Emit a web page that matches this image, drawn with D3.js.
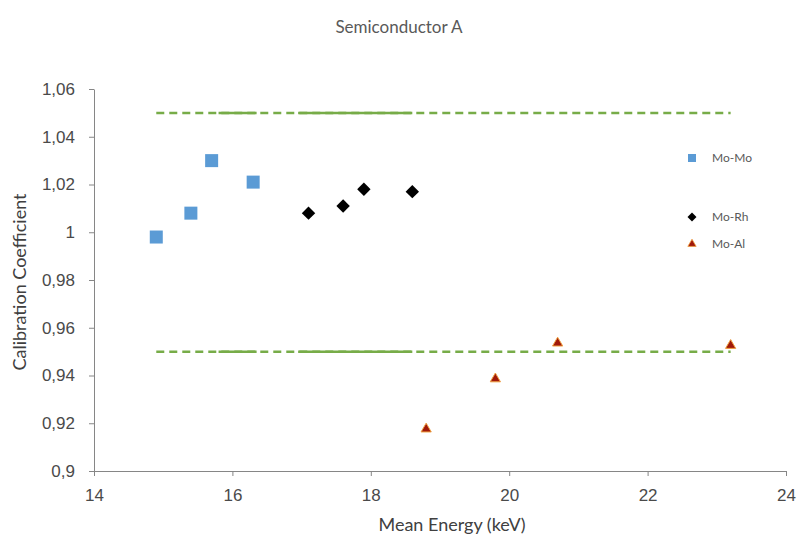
<!DOCTYPE html>
<html>
<head>
<meta charset="utf-8">
<script src="https://cdn.jsdelivr.net/npm/d3@7/dist/d3.min.js"></script>
<style>
  body { margin: 0; background: #fff; }
  svg { font-family: Lato, "Open Sans", sans-serif; }
</style>
</head>
<body>
<div class="displayArea"></div>
<script>
// values
const moMoX = [14.9, 15.4, 15.7, 16.3],
      moMoY = [0.998, 1.008, 1.030, 1.021];
const moRhX = [17.1, 17.6, 17.9, 18.6],
      moRhY = [1.008, 1.011, 1.018, 1.017];
const moAlX = [18.8, 19.8, 20.7, 23.2],
      moAlY = [0.918, 0.939, 0.954, 0.953];
const limitY = [1.05, 0.95],
      limitX = [14.9, 23.2],
      limitSolid = [[15.8, 16.35], [16.95, 18.6]]; // where the dashed limit lines overlap
const xTicks = [14, 16, 18, 20, 22, 24],
      yTicks = [0.9, 0.92, 0.94, 0.96, 0.98, 1, 1.02, 1.04, 1.06];

var width = 798, height = 544;

var svg = d3.select(".displayArea")
    .append("svg")
    .attr("width", width)
    .attr("height", height);

var xScale = d3.scaleLinear().domain([14, 24]).range([94, 786]),
    yScale = d3.scaleLinear().domain([0.9, 1.06]).range([471, 89]);

var fmt = d => String(+d.toFixed(2)).replace(".", ",");

var xAxis = d3.axisBottom(xScale).tickValues(xTicks).tickSize(5).tickSizeOuter(0).tickFormat(d3.format("d")),
    yAxis = d3.axisLeft(yScale).tickValues(yTicks).tickSize(5).tickSizeOuter(0).tickFormat(fmt);

svg.append("g")
    .attr("class", "xAxis")
    .attr("transform", `translate(0,${yScale(0.9)})`)
    .call(xAxis);

svg.append("g")
    .attr("class", "yAxis")
    .attr("transform", `translate(${xScale(14)},0)`)
    .call(yAxis);

svg.selectAll(".xAxis path, .xAxis line, .yAxis path, .yAxis line")
    .attr("stroke", "#868686");
svg.selectAll(".xAxis text")
    .attr("fill", "#4a4a4a").attr("font-size", 17).attr("y", 18).attr("dy", "0.71em");
svg.selectAll(".yAxis text")
    .attr("fill", "#4a4a4a").attr("font-size", 17).attr("x", -19);

// limit lines
limitY.forEach(v => {
    svg.append("line")
        .attr("x1", xScale(limitX[0])).attr("x2", xScale(limitX[1]))
        .attr("y1", yScale(v)).attr("y2", yScale(v))
        .attr("stroke", "#77ac48").attr("stroke-width", 2.5)
        .attr("stroke-dasharray", "8,5");
    limitSolid.forEach(s => {
        svg.append("line")
            .attr("x1", xScale(s[0])).attr("x2", xScale(s[1]))
            .attr("y1", yScale(v)).attr("y2", yScale(v))
            .attr("stroke", "#77ac48").attr("stroke-width", 2.5);
    });
});

// Mo-Mo squares
svg.append("g").selectAll("rect")
    .data(moMoX)
    .enter()
    .append("rect")
    .attr("x", d => xScale(d) - 6.5)
    .attr("y", (d, i) => yScale(moMoY[i]) - 6.5)
    .attr("width", 13).attr("height", 13)
    .attr("fill", "#5b9bd5");

// Mo-Rh diamonds
svg.append("g").selectAll("path")
    .data(moRhX)
    .enter()
    .append("path")
    .attr("d", d3.symbol(d3.symbolSquare, 90))
    .attr("transform", (d, i) => `translate(${xScale(d)},${yScale(moRhY[i])}) rotate(45)`)
    .attr("fill", "#000");

// Mo-Al triangles
svg.append("g").selectAll("path")
    .data(moAlX)
    .enter()
    .append("path")
    .attr("d", d3.symbol(d3.symbolTriangle, 45))
    .attr("transform", (d, i) => `translate(${xScale(d)},${yScale(moAlY[i]) + 1})`)
    .attr("fill", "#a0190a")
    .attr("stroke", "#f0a040").attr("stroke-width", 1);

// legend
var legend = svg.append("g").attr("font-size", 12).attr("fill", "#595959");
legend.append("rect").attr("x", 688).attr("y", 154).attr("width", 8).attr("height", 8).attr("fill", "#5b9bd5");
legend.append("text").attr("x", 712).attr("y", 162).text("Mo-Mo");
legend.append("path").attr("d", d3.symbol(d3.symbolSquare, 40))
    .attr("transform", "translate(692,217) rotate(45)").attr("fill", "#000");
legend.append("text").attr("x", 712).attr("y", 221).text("Mo-Rh");
legend.append("path").attr("d", d3.symbol(d3.symbolTriangle, 30))
    .attr("transform", "translate(692,244)").attr("fill", "#a0190a")
    .attr("stroke", "#f0a040").attr("stroke-width", 0.8);
legend.append("text").attr("x", 712).attr("y", 248).text("Mo-Al");

// titles
svg.append("text")
    .attr("x", 399).attr("y", 33)
    .attr("text-anchor", "middle")
    .attr("font-size", 17).attr("fill", "#595959")
    .text("Semiconductor A");

svg.append("text")
    .attr("x", 452).attr("y", 531)
    .attr("text-anchor", "middle")
    .attr("font-size", 18).attr("fill", "#404040")
    .text("Mean Energy (keV)");

svg.append("text")
    .attr("transform", "translate(26,282) rotate(-90)")
    .attr("text-anchor", "middle")
    .attr("font-size", 18).attr("fill", "#404040")
    .text("Calibration Coefficient");
</script>
</body>
</html>
